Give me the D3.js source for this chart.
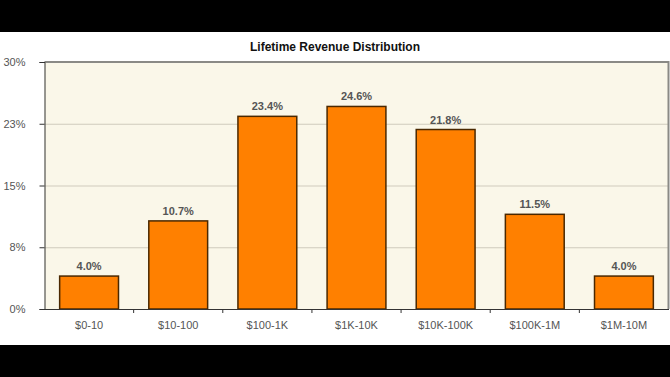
<!DOCTYPE html>
<html>
<head>
<meta charset="utf-8">
<script src="https://cdn.jsdelivr.net/npm/d3@7"></script>
<style>
  html, body { margin: 0; padding: 0; background: #000; }
  svg { display: block; }
</style>
</head>
<body>
<div id="app"></div>
<script>
const categories = ["$0-10", "$10-100", "$100-1K", "$1K-10K", "$10K-100K", "$100K-1M", "$1M-10M"];
const values = [4.0, 10.7, 23.4, 24.6, 21.8, 11.5, 4.0];
const yTicks = [0, 7.5, 15, 22.5, 30];
const title = "Lifetime Revenue Distribution";

const width = 670;
const height = 377;
const margin = { top: 62, right: 1.5, bottom: 68, left: 44.5 };

const svg = d3.select("#app")
  .append("svg")
  .attr("width", width)
  .attr("height", height);

// black letterbox with white page between
svg.append("rect").attr("width", width).attr("height", height).attr("fill", "#000");
svg.append("rect")
  .attr("x", 0).attr("y", 32)
  .attr("width", width).attr("height", 313)
  .attr("fill", "#fff");

const x = d3.scaleBand()
  .domain(categories)
  .range([margin.left, width - margin.right])
  .paddingInner(0.34)
  .paddingOuter(0.17);

const y = d3.scaleLinear()
  .domain([0, 30])
  .range([height - margin.bottom, margin.top]);

// plot background
svg.append("rect")
  .attr("x", margin.left)
  .attr("y", margin.top)
  .attr("width", width - margin.right - margin.left)
  .attr("height", y(0) - margin.top)
  .attr("fill", "#faf7e9");

// grid lines
svg.append("g")
  .selectAll("line")
  .data(yTicks.slice(1, -1))
  .join("line")
  .attr("x1", margin.left)
  .attr("x2", width - margin.right)
  .attr("y1", (d) => y(d) + 0.5)
  .attr("y2", (d) => y(d) + 0.5)
  .attr("stroke", "#cfcbbd")
  .attr("stroke-width", 1.2);

// top and right border
svg.append("path")
  .attr("d", `M${margin.left},${margin.top}H${width - margin.right}V${y(0)}`)
  .attr("fill", "none")
  .attr("stroke", "#8a8a86")
  .attr("stroke-width", 2);

// bars
svg.append("g")
  .selectAll("rect")
  .data(values)
  .join("rect")
  .attr("x", (d, i) => x(categories[i]))
  .attr("y", (d) => y(d))
  .attr("width", x.bandwidth())
  .attr("height", (d) => y(0) - y(d))
  .attr("fill", "#ff8000")
  .attr("stroke", "#4a2800")
  .attr("stroke-width", 1.5);

// value labels
svg.append("g")
  .selectAll("text")
  .data(values)
  .join("text")
  .attr("x", (d, i) => x(categories[i]) + x.bandwidth() / 2)
  .attr("y", (d) => y(d) - 6)
  .attr("text-anchor", "middle")
  .attr("font-family", "Liberation Sans, Arial, sans-serif")
  .attr("font-size", 11)
  .attr("font-weight", "bold")
  .attr("fill", "#555")
  .text((d) => d.toFixed(1) + "%");

// y axis
const yAxis = svg.append("g")
  .attr("transform", `translate(${margin.left},0)`)
  .call(d3.axisLeft(y)
    .tickValues(yTicks)
    .tickSize(5)
    .tickPadding(14)
    .tickFormat((d) => Math.round(d) + "%"));
yAxis.select(".domain").attr("stroke", "#333");
yAxis.selectAll(".tick line").attr("stroke", "#333");
yAxis.selectAll("text")
  .attr("font-family", "Liberation Sans, Arial, sans-serif")
  .attr("font-size", 11)
  .attr("fill", "#555");

// x axis with ticks at band boundaries
const xAxis = svg.append("g")
  .attr("transform", `translate(0,${y(0)})`)
  .call(d3.axisBottom(x).tickSize(0).tickPadding(12));
xAxis.select(".domain").attr("stroke", "#333").attr("stroke-width", 1.2);
xAxis.selectAll("text")
  .attr("font-family", "Liberation Sans, Arial, sans-serif")
  .attr("font-size", 11)
  .attr("fill", "#555");

svg.append("g")
  .selectAll("line")
  .data(categories.slice(1))
  .join("line")
  .attr("x1", (d) => x(d) - x.step() * x.paddingInner() / 2)
  .attr("x2", (d) => x(d) - x.step() * x.paddingInner() / 2)
  .attr("y1", y(0))
  .attr("y2", y(0) + 4)
  .attr("stroke", "#333");

// title
svg.append("text")
  .attr("x", width / 2)
  .attr("y", 51)
  .attr("text-anchor", "middle")
  .attr("font-family", "Liberation Sans, Arial, sans-serif")
  .attr("font-size", 12)
  .attr("font-weight", "bold")
  .attr("fill", "#111")
  .text(title);
</script>
</body>
</html>
